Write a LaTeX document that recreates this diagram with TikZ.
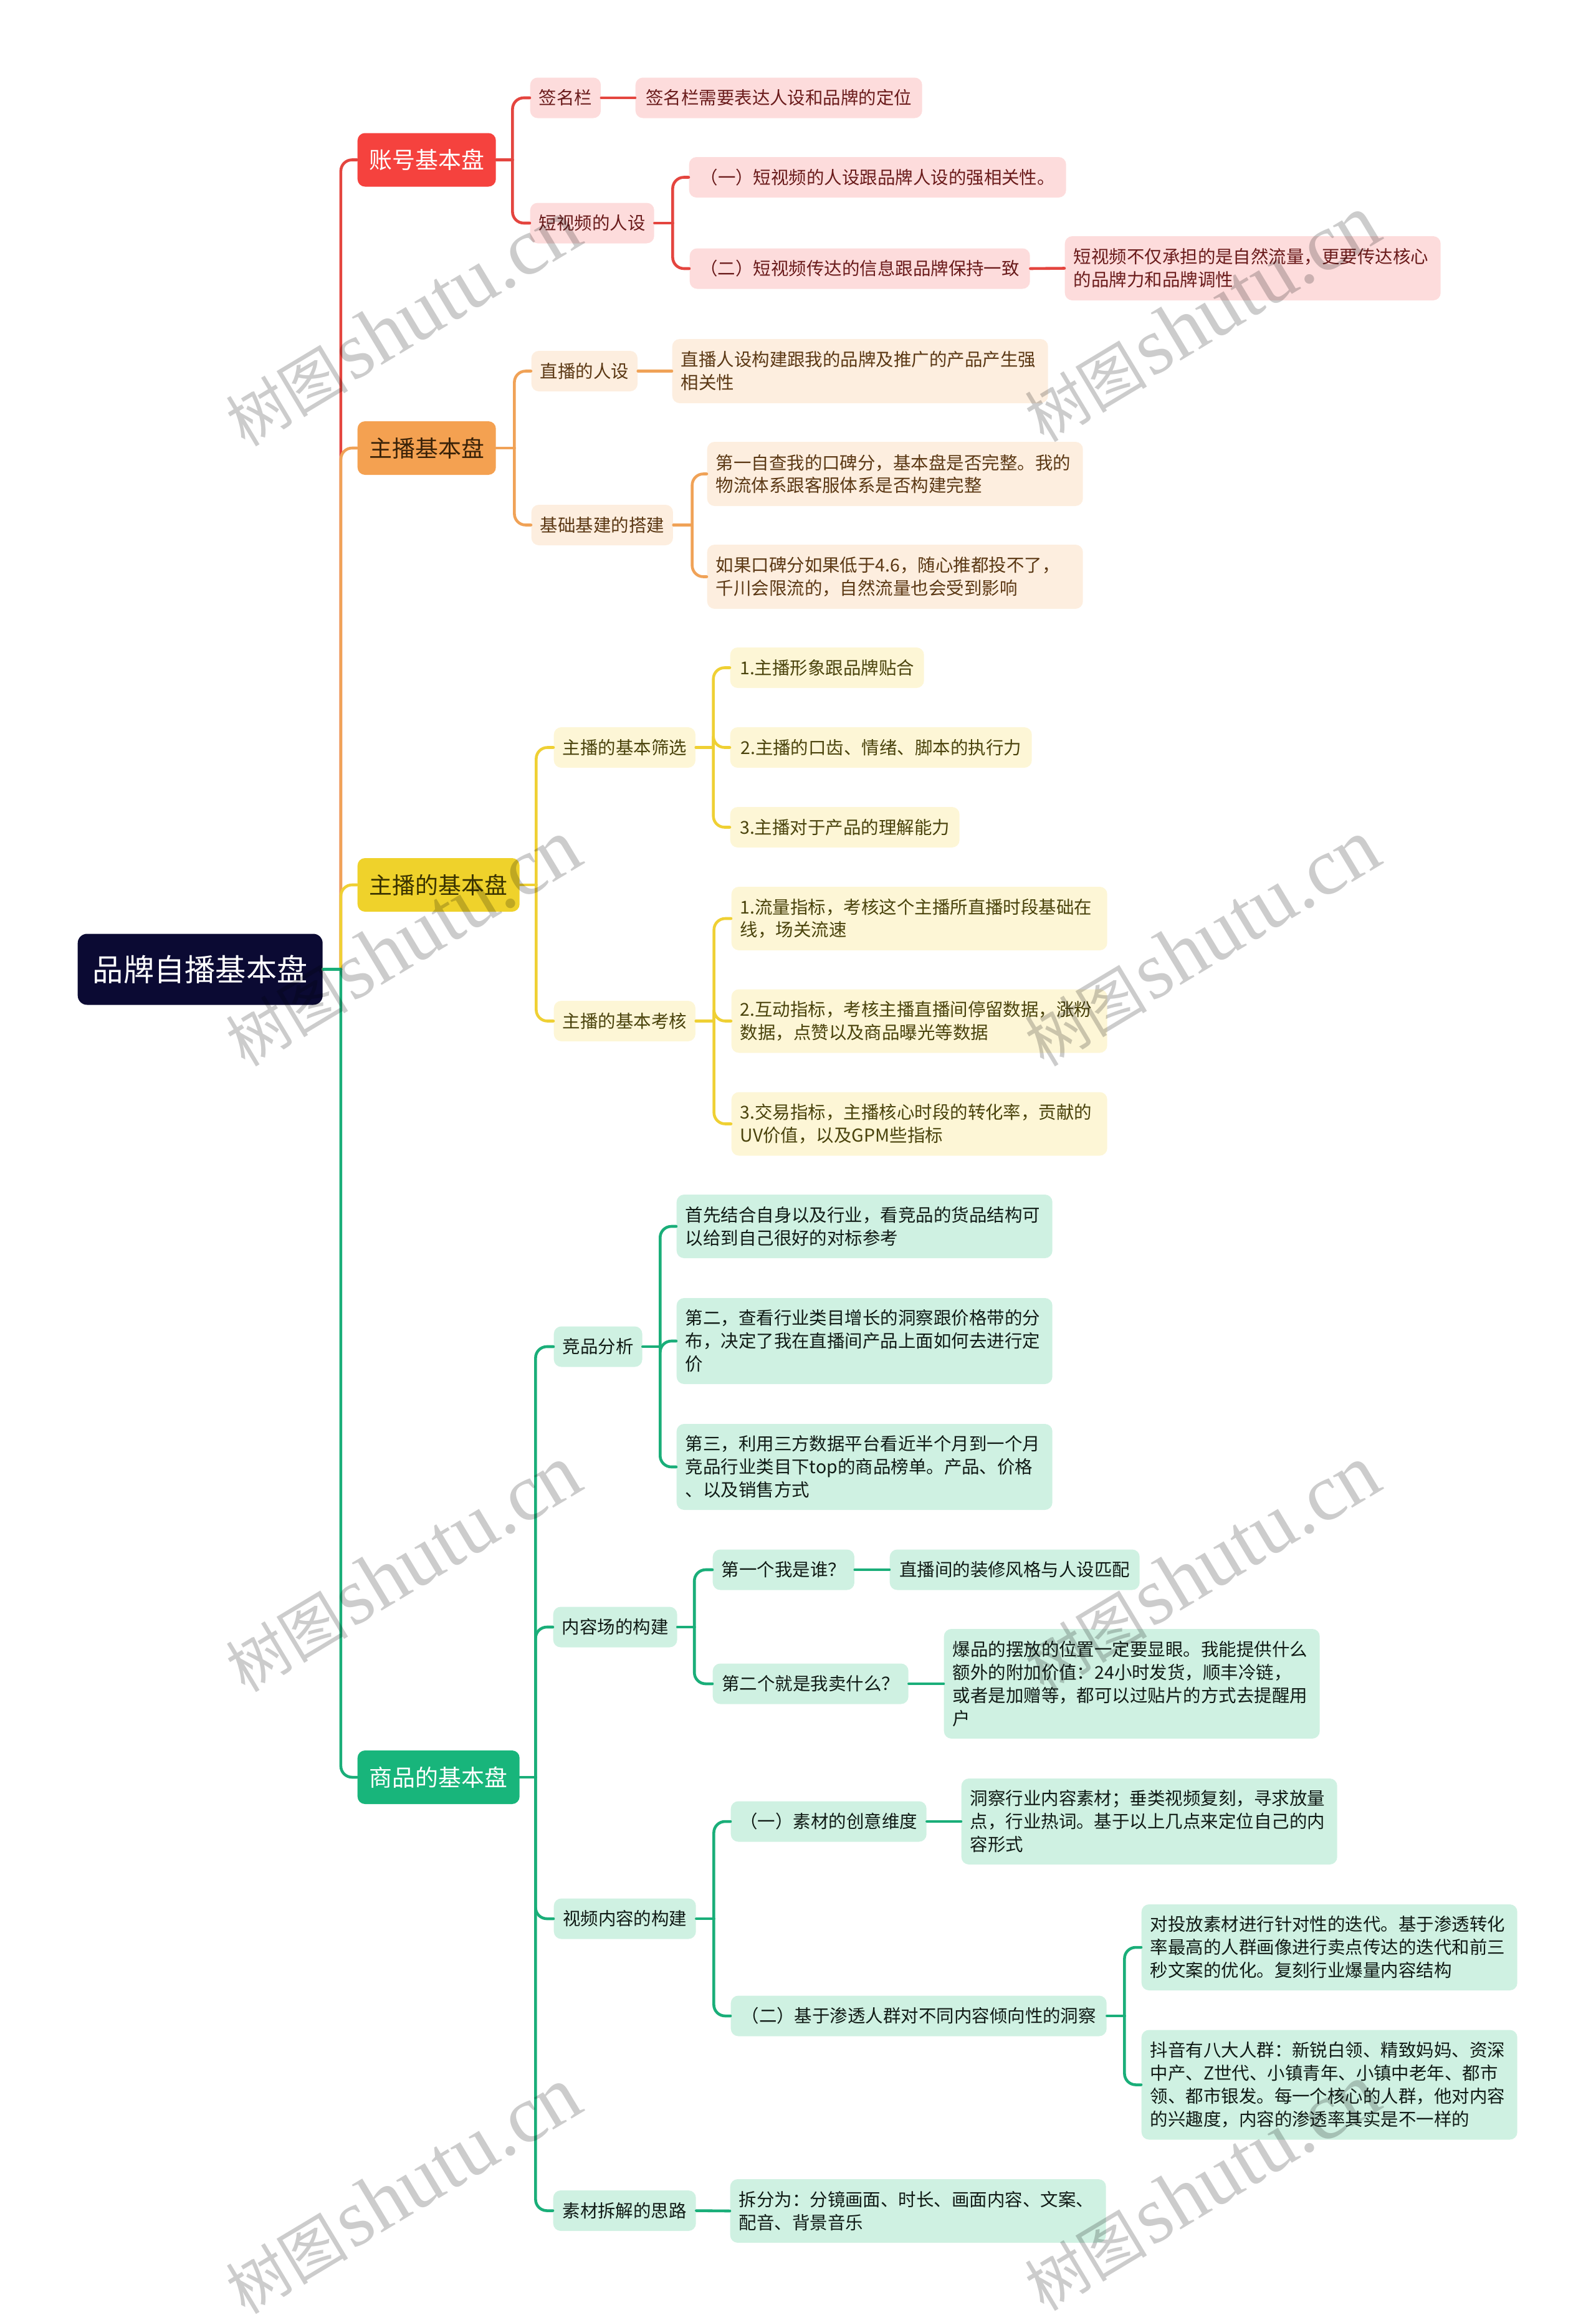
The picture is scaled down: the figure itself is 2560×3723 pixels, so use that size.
\documentclass[tikz,border=0pt]{standalone}
\usepackage{fontspec}
\setmainfont{Noto Sans CJK SC}
\newfontfamily\wmlat{Liberation Serif}
\newfontfamily\wmcjk{Noto Sans CJK SC}
\definecolor{redM}{HTML}{F5423E}
\definecolor{redL}{HTML}{FDDCDC}
\definecolor{redT}{HTML}{6A1B1B}
\definecolor{redLn}{HTML}{E4453F}
\definecolor{oraM}{HTML}{F4A151}
\definecolor{oraL}{HTML}{FDEEDF}
\definecolor{oraT}{HTML}{5B3814}
\definecolor{oraTM}{HTML}{3A2208}
\definecolor{oraLn}{HTML}{F0A257}
\definecolor{yelM}{HTML}{EFD22B}
\definecolor{yelL}{HTML}{FDF6D6}
\definecolor{yelT}{HTML}{4A430C}
\definecolor{yelTM}{HTML}{3A3300}
\definecolor{yelLn}{HTML}{EFD034}
\definecolor{grnM}{HTML}{18B57B}
\definecolor{grnL}{HTML}{CFF1E2}
\definecolor{grnT}{HTML}{101A15}
\definecolor{grnLn}{HTML}{1AAE79}
\definecolor{navy}{HTML}{0B0A33}
\newcommand\fsub{\fontsize{8.1pt}{10.5pt}\selectfont}
\newcommand\fmain{\fontsize{10.5pt}{12pt}\selectfont}
\newcommand\froot{\fontsize{14pt}{16pt}\selectfont}
\tikzset{
  base/.style={anchor=west, rounded corners=1.2mm, inner xsep=1.4mm, inner ysep=0pt, align=center},
  sub/.style={base, font=\fsub, minimum height=6.5mm},
  lone/.style={base, font=\fmain, minimum height=8.6mm},
  rsub/.style={sub, fill=redL, text=redT},
  osub/.style={sub, fill=oraL, text=oraT},
  ysub/.style={sub, fill=yelL, text=yelT},
  gsub/.style={sub, fill=grnL, text=grnT},
  multi/.style={align=left, text width=57.5mm, minimum height=#1},
  con/.style={line width=1.3pt, line cap=round},
  rc/.style={rounded corners=1.8mm},
  lr/.style={con, draw=redLn},
  lo/.style={con, draw=oraLn},
  ly/.style={con, draw=yelLn},
  lg/.style={con, draw=grnLn},
  wm/.style={rotate=31, text=black, opacity=0.2, inner sep=0pt}
}
\begin{document}
\begin{tikzpicture}[x=0.1mm,y=-0.1mm]
\useasboundingbox (0,0) rectangle (2560,3723);
% root
\node[base, fill=navy, text=white, font=\froot, minimum width=39.3mm, minimum height=11.4mm, rounded corners=1.5mm] (root) at (124,1555.5) {品牌自播基本盘};
% level 1
\node[lone, fill=redM, text=white, minimum width=22.2mm] (acc) at (573,256.5) {账号基本盘};
\node[lone, fill=oraM, text=oraTM, minimum width=22.2mm] (ori) at (573,719) {主播基本盘};
\node[lone, fill=yelM, text=yelTM, minimum width=26mm] (yel) at (573,1420) {主播的基本盘};
\node[lone, fill=grnM, text=white, minimum width=26mm] (grn) at (573,2852) {商品的基本盘};
% red branch
\node[rsub, minimum width=11.2mm] (a1) at (850,157) {签名栏};
\node[rsub, minimum width=46mm] (a11) at (1019,157) {签名栏需要表达人设和品牌的定位};
\node[rsub, minimum width=19.9mm] (a2) at (850,358) {短视频的人设};
\node[rsub, minimum width=60.5mm] (a21) at (1105,284.5) {（一）短视频的人设跟品牌人设的强相关性。};
\node[rsub, minimum width=54.6mm] (a22) at (1106,431) {（二）短视频传达的信息跟品牌保持一致};
\node[rsub, multi=10.3mm] (a221) at (1708,430.5) {短视频不仅承担的是自然流量，更要传达核心\\的品牌力和品牌调性};
% orange branch
\node[osub, minimum width=16.9mm] (o1) at (852,595.5) {直播的人设};
\node[osub, multi=10.3mm] (o11) at (1078,595.5) {直播人设构建跟我的品牌及推广的产品产生强\\相关性};
\node[osub, minimum width=22.6mm] (o2) at (852,842.5) {基础基建的搭建};
\node[osub, multi=10.3mm] (o21) at (1134,760.5) {第一自查我的口碑分，基本盘是否完整。我的\\物流体系跟客服体系是否构建完整};
\node[osub, multi=10.3mm] (o22) at (1134,925.5) {如果口碑分如果低于4.6，随心推都投不了，\\千川会限流的，自然流量也会受到影响};
% yellow branch
\node[ysub, minimum width=22.7mm] (y1) at (888,1199.5) {主播的基本筛选};
\node[ysub, minimum width=31.1mm] (y11) at (1171,1071.5) {1.主播形象跟品牌贴合};
\node[ysub, minimum width=48.4mm] (y12) at (1171,1199.5) {2.主播的口齿、情绪、脚本的执行力};
\node[ysub, minimum width=36.8mm] (y13) at (1171,1327.5) {3.主播对于产品的理解能力};
\node[ysub, minimum width=22.6mm] (y2) at (888,1638.5) {主播的基本考核};
\node[ysub, multi=10.2mm] (y21) at (1173,1474) {1.流量指标，考核这个主播所直播时段基础在\\线，场关流速};
\node[ysub, multi=10.2mm] (y22) at (1173,1638.5) {2.互动指标，考核主播直播间停留数据，涨粉\\数据，点赞以及商品曝光等数据};
\node[ysub, multi=10.2mm] (y23) at (1173,1803.5) {3.交易指标，主播核心时段的转化率，贡献的\\UV价值，以及GPM些指标};
% green branch
\node[gsub, minimum width=14.1mm] (g1) at (888,2161) {竞品分析};
\node[gsub, multi=10.2mm] (g11) at (1085,1968) {首先结合自身以及行业，看竞品的货品结构可\\以给到自己很好的对标参考};
\node[gsub, multi=13.8mm] (g12) at (1085,2152) {第二，查看行业类目增长的洞察跟价格带的分\\布，决定了我在直播间产品上面如何去进行定\\价};
\node[gsub, multi=13.8mm] (g13) at (1085,2354) {第三，利用三方数据平台看近半个月到一个月\\竞品行业类目下top的商品榜单。产品、价格\\、以及销售方式};
\node[gsub, minimum width=19.8mm] (g2) at (887,2611) {内容场的构建};
\node[gsub, minimum width=22.7mm] (g21) at (1143,2519) {第一个我是谁？};
\node[gsub, minimum width=40.1mm] (g211) at (1427,2519) {直播间的装修风格与人设匹配};
\node[gsub, minimum width=31.4mm] (g22) at (1143,2702) {第二个就是我卖什么？};
\node[gsub, multi=17.6mm] (g221) at (1514,2702) {爆品的摆放的位置一定要显眼。我能提供什么\\额外的附加价值：24小时发货，顺丰冷链，\\或者是加赠等，都可以过贴片的方式去提醒用\\户};
\node[gsub, minimum width=22.8mm] (g3) at (888,3079) {视频内容的构建};
\node[gsub, minimum width=31.4mm] (g31) at (1172,2923) {（一）素材的创意维度};
\node[gsub, multi=13.8mm] (g311) at (1542,2923) {洞察行业内容素材；垂类视频复刻，寻求放量\\点，行业热词。基于以上几点来定位自己的内\\容形式};
\node[gsub, minimum width=60.3mm] (g32) at (1172,3235) {（二）基于渗透人群对不同内容倾向性的洞察};
\node[gsub, multi=13.8mm] (g321) at (1831,3125) {对投放素材进行针对性的迭代。基于渗透转化\\率最高的人群画像进行卖点传达的迭代和前三\\秒文案的优化。复刻行业爆量内容结构};
\node[gsub, multi=17.6mm] (g322) at (1831,3345.5) {抖音有八大人群：新锐白领、精致妈妈、资深\\中产、Z世代、小镇青年、小镇中老年、都市\\领、都市银发。每一个核心的人群，他对内容\\的兴趣度，内容的渗透率其实是不一样的};
\node[gsub, minimum width=22.9mm] (g4) at (887,3547.5) {素材拆解的思路};
\node[gsub, multi=10.2mm] (g41) at (1171,3548) {拆分为：分镜画面、时长、画面内容、文案、\\配音、背景音乐};
% junctions
\coordinate (j0) at ([xshift=2.85mm]root.east);
\coordinate (ja) at ([xshift=2.6mm]acc.east);
\coordinate (ja2) at ([xshift=2.9mm]a2.east);
\coordinate (jo) at ([xshift=2.9mm]ori.east);
\coordinate (jo2) at ([xshift=3mm]o2.east);
\coordinate (jy) at ([xshift=2.6mm]yel.east);
\coordinate (jy1) at ([xshift=2.8mm]y1.east);
\coordinate (jy2) at ([xshift=2.9mm]y2.east);
\coordinate (jg) at ([xshift=2.5mm]grn.east);
\coordinate (jg1) at ([xshift=2.8mm]g1.east);
\coordinate (jg2) at ([xshift=2.7mm]g2.east);
\coordinate (jg3) at ([xshift=2.8mm]g3.east);
\coordinate (jg32) at ([xshift=2.8mm]g32.east);
% root connectors (drawn in order so the trunk shows each branch colour)
\draw[lr] (root.east) -- (j0); \draw[lr,rc] (j0) |- (acc.west);
\draw[lo] (root.east) -- (j0); \draw[lo,rc] (j0) |- (ori.west);
\draw[ly] (root.east) -- (j0); \draw[ly,rc] (j0) |- (yel.west);
\draw[lg] (root.east) -- (j0); \draw[lg,rc] (j0) |- (grn.west);
% red connectors
\draw[lr] (acc.east) -- (ja);
\draw[lr,rc] (ja) |- (a1.west);
\draw[lr,rc] (ja) |- (a2.west);
\draw[lr] (a1.east) -- (a11.west);
\draw[lr] (a2.east) -- (ja2);
\draw[lr,rc] (ja2) |- (a21.west);
\draw[lr,rc] (ja2) |- (a22.west);
\draw[lr] (a22.east) -- (a221.west);
% orange connectors
\draw[lo] (ori.east) -- (jo);
\draw[lo,rc] (jo) |- (o1.west);
\draw[lo,rc] (jo) |- (o2.west);
\draw[lo] (o1.east) -- (o11.west);
\draw[lo] (o2.east) -- (jo2);
\draw[lo,rc] (jo2) |- (o21.west);
\draw[lo,rc] (jo2) |- (o22.west);
% yellow connectors
\draw[ly] (yel.east) -- (jy);
\draw[ly,rc] (jy) |- (y1.west);
\draw[ly,rc] (jy) |- (y2.west);
\draw[ly] (y1.east) -- (jy1);
\draw[ly,rc] (jy1) |- (y11.west);
\draw[ly,rc] (jy1) |- (y12.west);
\draw[ly,rc] (jy1) |- (y13.west);
\draw[ly] (y2.east) -- (jy2);
\draw[ly,rc] (jy2) |- (y21.west);
\draw[ly,rc] (jy2) |- (y22.west);
\draw[ly,rc] (jy2) |- (y23.west);
% green connectors
\draw[lg] (grn.east) -- (jg);
\draw[lg,rc] (jg) |- (g1.west);
\draw[lg,rc] (jg) |- (g2.west);
\draw[lg,rc] (jg) |- (g3.west);
\draw[lg,rc] (jg) |- (g4.west);
\draw[lg] (g1.east) -- (jg1);
\draw[lg,rc] (jg1) |- (g11.west);
\draw[lg,rc] (jg1) |- (g12.west);
\draw[lg,rc] (jg1) |- (g13.west);
\draw[lg] (g2.east) -- (jg2);
\draw[lg,rc] (jg2) |- (g21.west);
\draw[lg,rc] (jg2) |- (g22.west);
\draw[lg] (g21.east) -- (g211.west);
\draw[lg] (g22.east) -- (g221.west);
\draw[lg] (g3.east) -- (jg3);
\draw[lg,rc] (jg3) |- (g31.west);
\draw[lg,rc] (jg3) |- (g32.west);
\draw[lg] (g31.east) -- (g311.west);
\draw[lg] (g32.east) -- (jg32);
\draw[lg,rc] (jg32) |- (g321.west);
\draw[lg,rc] (jg32) |- (g322.west);
\draw[lg] (g4.east) -- (g41.west);
% watermarks
\foreach \i/\x/\y in {1/646/518, 2/1928/511, 3/646/1513, 4/1928/1513, 5/646/2517, 6/1928/2517, 7/646/3515, 8/1928/3510}
  \node[wm] (wm\i) at (\x,\y) {{\wmcjk\fontsize{28pt}{30pt}\selectfont 树图}\,{\wmlat\fontsize{37pt}{40pt}\selectfont shutu.cn}};
\end{tikzpicture}
\end{document}
